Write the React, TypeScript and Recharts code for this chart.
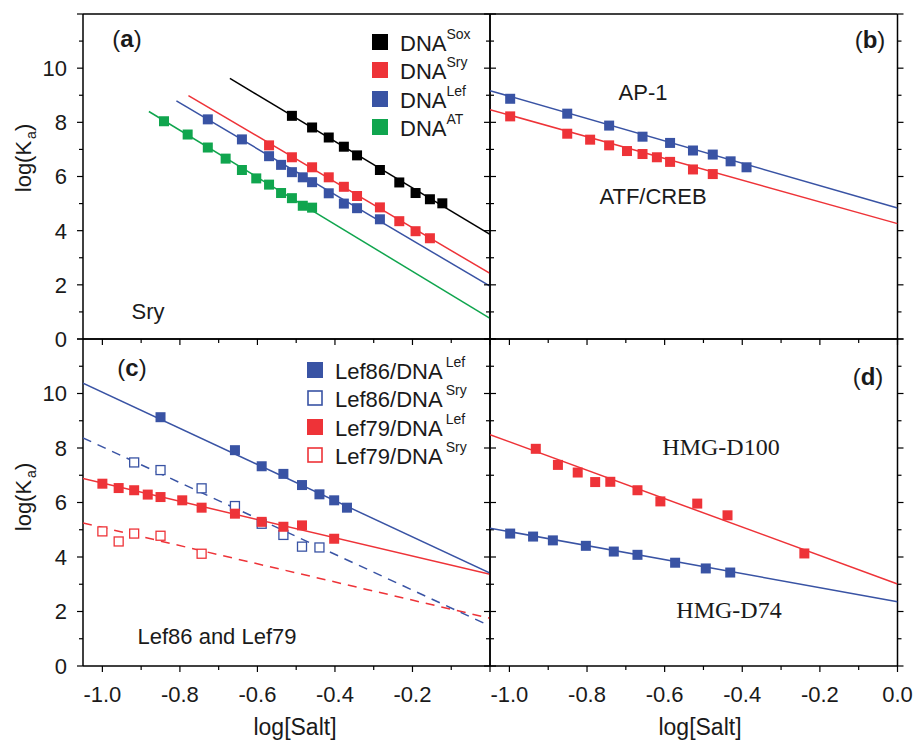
import React from 'react';
import { ScatterChart, Scatter, XAxis, YAxis } from 'recharts';

const FONT = '"Liberation Sans", Arial, Helvetica, sans-serif';
const SERIF = '"Liberation Serif", "Times New Roman", serif';
const RED = '#ee3338';
const BLUE = '#3953a4';
const GREEN = '#10a54e';
const BLACK = '#000000';

const X_TICKS = [-1.0, -0.9, -0.8, -0.7, -0.6, -0.5, -0.4, -0.3, -0.2, -0.1, 0.0];
const Y_TICKS = [0, 1, 2, 3, 4, 5, 6, 7, 8, 9, 10, 11, 12];

// (a) Sry
const soxX = [-0.511, -0.459, -0.416, -0.377, -0.343, -0.284, -0.234, -0.192, -0.155, -0.123];
const soxY = [8.24, 7.81, 7.44, 7.1, 6.78, 6.24, 5.78, 5.39, 5.16, 5.01];
const sryX = [-0.57, -0.511, -0.459, -0.416, -0.377, -0.343, -0.284, -0.234, -0.192, -0.155];
const sryY = [7.15, 6.71, 6.34, 5.97, 5.62, 5.28, 4.86, 4.35, 3.98, 3.72];
const lefX = [-0.728, -0.64, -0.57, -0.539, -0.511, -0.483, -0.459, -0.416, -0.377, -0.343, -0.284];
const lefY = [8.11, 7.37, 6.75, 6.43, 6.16, 5.97, 5.79, 5.38, 5.0, 4.83, 4.42];
const atX = [-0.841, -0.78, -0.728, -0.682, -0.64, -0.603, -0.57, -0.539, -0.511, -0.483, -0.459];
const atY = [8.04, 7.55, 7.07, 6.66, 6.24, 5.93, 5.7, 5.39, 5.2, 4.92, 4.85];
const soxFit = [[-0.671, 9.62], [0, 3.86]];
const sryFit = [[-0.778, 8.99], [0, 2.42]];
const lefFit = [[-0.809, 8.79], [0, 1.95]];
const atFit = [[-0.88, 8.4], [0, 0.76]];

// (b) AP-1, ATF/CREB
const ap1X = [-0.998, -0.851, -0.743, -0.657, -0.586, -0.527, -0.476, -0.43, -0.389];
const ap1Y = [8.87, 8.32, 7.88, 7.47, 7.24, 6.96, 6.81, 6.56, 6.34];
const atfX = [-0.998, -0.851, -0.792, -0.743, -0.697, -0.657, -0.62, -0.586, -0.527, -0.476];
const atfY = [8.22, 7.58, 7.36, 7.15, 6.94, 6.83, 6.71, 6.54, 6.26, 6.09];
const ap1Fit = [[-1.05, 9.17], [0, 4.84]];
const atfFit = [[-1.05, 8.47], [0, 4.26]];

// (c) Lef86 and Lef79
const l86LefX = [-0.85, -0.658, -0.589, -0.533, -0.485, -0.44, -0.402, -0.369];
const l86LefY = [9.13, 7.92, 7.33, 7.05, 6.64, 6.3, 6.08, 5.81];
const l86SryX = [-0.918, -0.85, -0.744, -0.658, -0.589, -0.533, -0.485, -0.44];
const l86SryY = [7.47, 7.19, 6.52, 5.87, 5.22, 4.81, 4.38, 4.35];
const l79LefX = [-1.0, -0.958, -0.918, -0.883, -0.85, -0.794, -0.744, -0.658, -0.589, -0.533, -0.485, -0.402];
const l79LefY = [6.69, 6.53, 6.45, 6.29, 6.2, 6.08, 5.81, 5.59, 5.29, 5.11, 5.16, 4.67];
const l79SryX = [-1.0, -0.958, -0.918, -0.85, -0.744];
const l79SryY = [4.94, 4.57, 4.86, 4.78, 4.12];
const l86LefFit = [[-1.05, 10.38], [0, 3.41]];
const l86SryFit = [[-1.05, 8.37], [0, 1.47]];
const l79LefFit = [[-1.05, 6.88], [0, 3.37]];
const l79SryFit = [[-1.05, 5.25], [0, 1.75]];

// (d) HMG-D100, HMG-D74
const d100X = [-0.932, -0.875, -0.824, -0.779, -0.74, -0.67, -0.611, -0.516, -0.438, -0.24];
const d100Y = [7.97, 7.38, 7.1, 6.75, 6.76, 6.45, 6.04, 5.96, 5.53, 4.13];
const d74X = [-0.998, -0.939, -0.888, -0.803, -0.731, -0.67, -0.573, -0.494, -0.431];
const d74Y = [4.86, 4.75, 4.61, 4.41, 4.2, 4.08, 3.79, 3.58, 3.43];
const d100Fit = [[-1.05, 8.49], [0, 3.01]];
const d74Fit = [[-1.05, 5.06], [0, 2.36]];

type Pt = { x: number; y: number };
const pts = (xs: number[], ys: number[]): Pt[] => xs.map((x, i) => ({ x, y: ys[i] }));
const fit = (f: number[][]): Pt[] => f.map(([x, y]) => ({ x, y }));

type Series = { data: Pt[]; color: string; open?: boolean };
type Fit = { data: Pt[]; color: string; dashed?: boolean };

const W = 918;
const H = 741;
const PL = 83;
const PM = 490;
const PR = 897.5;
const PT = 14;
const PMY = 339;
const PB = 666;
const AX = 1; // axis band size

const xTick = (dir: number, labels: boolean, labelZero: boolean, short = false) => (p: any) => {
  const v = p.payload.value;
  const k = Math.round(v * 10);
  const major = k % 2 === 0;
  const len = short ? (major ? 3 : 2) : major ? 6 : 4;
  const show = labels && major && (labelZero || k !== 0);
  return (
    <g>
      <line x1={p.x} x2={p.x} y1={p.y} y2={p.y + dir * len} stroke="#000" strokeWidth={1.2} />
      {show && (
        <text x={p.x} y={p.y + 36} textAnchor="middle" fontSize={22} fontFamily={FONT} fill="#1a1a1a">
          {v.toFixed(1)}
        </text>
      )}
    </g>
  );
};

const yTick = (dir: number, labels: boolean) => (p: any) => {
  const v = p.payload.value;
  const major = v % 2 === 0;
  const len = major ? 6 : 4;
  const show = labels && major && v <= 10;
  return (
    <g>
      <line x1={p.x} x2={p.x + dir * len} y1={p.y} y2={p.y} stroke="#000" strokeWidth={1.2} />
      {show && (
        <text x={p.x - 16} y={p.y} dy="0.36em" textAnchor="end" fontSize={22} fontFamily={FONT} fill="#1a1a1a">
          {v}
        </text>
      )}
    </g>
  );
};

const square = (color: string, open?: boolean) => (p: any) =>
  open ? (
    <rect x={p.cx - 4.5} y={p.cy - 4.5} width={9} height={9} fill="#fff" stroke={color} strokeWidth={1.3} />
  ) : (
    <rect x={p.cx - 5} y={p.cy - 5} width={10} height={10} fill={color} />
  );

type PanelProps = { side: 'left' | 'right'; row: 'top' | 'bottom'; series: Series[]; fits: Fit[] };

function Panel({ side, row, series, fits }: PanelProps) {
  const left = (side === 'left' ? PL : PM) - AX;
  const right = (side === 'left' ? W - PM : W - PR) - AX;
  const top = (row === 'top' ? PT : PMY) - AX;
  const bottom = (row === 'top' ? H - PMY : H - PB) - AX;
  const axisLine = { stroke: '#000', strokeWidth: 1.5 };
  return (
    <div style={{ position: 'absolute', left: 0, top: 0 }}>
      <ScatterChart width={W} height={H} margin={{ left, right, top, bottom }}>
        <XAxis
          type="number"
          dataKey="x"
          domain={[-1.05, 0]}
          ticks={X_TICKS}
          interval={0}
          height={AX}
          tickSize={0}
          tickMargin={0}
          tickLine={false}
          axisLine={axisLine}
          tick={xTick(1, row === 'bottom', side === 'right')}
          allowDataOverflow
        />
        <XAxis
          xAxisId="t"
          orientation="top"
          type="number"
          domain={[-1.05, 0]}
          ticks={X_TICKS}
          interval={0}
          height={AX}
          tickSize={0}
          tickMargin={0}
          tickLine={false}
          axisLine={axisLine}
          tick={row === 'top' ? xTick(1, false, false, true) : xTick(-1, false, false)}
          allowDataOverflow
        />
        <YAxis
          type="number"
          dataKey="y"
          domain={[0, 12]}
          ticks={Y_TICKS}
          interval={0}
          width={AX}
          tickSize={0}
          tickMargin={0}
          tickLine={false}
          axisLine={axisLine}
          tick={yTick(-1, side === 'left')}
          allowDataOverflow
        />
        <YAxis
          yAxisId="r"
          orientation="right"
          type="number"
          domain={[0, 12]}
          ticks={Y_TICKS}
          interval={0}
          width={AX}
          tickSize={0}
          tickMargin={0}
          tickLine={false}
          axisLine={axisLine}
          tick={yTick(1, false)}
          allowDataOverflow
        />
        {fits.map((f, i) => (
          <Scatter
            key={'f' + i}
            data={f.data}
            fill={f.color}
            line={{ stroke: f.color, strokeWidth: 1.5, strokeDasharray: f.dashed ? '9 7' : undefined }}
            shape={() => <g />}
            isAnimationActive={false}
          />
        ))}
        {series.map((s, i) => (
          <Scatter key={'s' + i} data={s.data} fill={s.color} shape={square(s.color, s.open)} isAnimationActive={false} />
        ))}
      </ScatterChart>
    </div>
  );
}

const abs = (x: number, y: number, extra: React.CSSProperties = {}): React.CSSProperties => ({
  position: 'absolute',
  left: x,
  top: y,
  transform: 'translate(-50%, -50%)',
  whiteSpace: 'nowrap',
  fontFamily: FONT,
  color: '#1a1a1a',
  ...extra,
});

const legendA = [
  { name: 'DNA', sup: 'Sox', color: BLACK, open: false },
  { name: 'DNA', sup: 'Sry', color: RED, open: false },
  { name: 'DNA', sup: 'Lef', color: BLUE, open: false },
  { name: 'DNA', sup: 'AT', color: GREEN, open: false },
];
const legendC = [
  { name: 'Lef86/DNA', sup: 'Lef', color: BLUE, open: false },
  { name: 'Lef86/DNA', sup: 'Sry', color: BLUE, open: true },
  { name: 'Lef79/DNA', sup: 'Lef', color: RED, open: false },
  { name: 'Lef79/DNA', sup: 'Sry', color: RED, open: true },
];

function Legend({ items, x, y0, step, gap }: { items: typeof legendA; x: number; y0: number; step: number; gap: number }) {
  return (
    <>
      {items.map((it, i) => (
        <div
          key={i}
          style={{ position: 'absolute', left: x - 8, top: y0 + i * step - 13, height: 26, lineHeight: '26px', whiteSpace: 'nowrap', fontFamily: FONT, color: '#1a1a1a' }}
        >
          <svg width={16} height={16} style={{ position: 'absolute', left: 0, top: 5 }}>
            {it.open ? (
              <rect x={1} y={1} width={14} height={14} fill="#fff" stroke={it.color} strokeWidth={1.6} />
            ) : (
              <rect x={0} y={0} width={16} height={16} fill={it.color} />
            )}
          </svg>
          <span style={{ position: 'absolute', left: 28, top: 2, fontSize: 22 }}>
            {it.name}
            <span style={{ fontSize: 14, position: 'relative', top: -12, marginLeft: gap }}>{it.sup}</span>
          </span>
        </div>
      ))}
    </>
  );
}

const Tag = ({ x, y, t }: { x: number; y: number; t: string }) => (
  <div style={abs(x, y, { fontSize: 24 })}>
    (<b>{t}</b>)
  </div>
);

export default function App() {
  return (
    <div style={{ position: 'absolute', left: 0, top: 0, width: W, height: H, background: '#fff', overflow: 'hidden' }}>
      <Panel
        side="left"
        row="top"
        fits={[
          { data: fit(atFit), color: GREEN },
          { data: fit(lefFit), color: BLUE },
          { data: fit(sryFit), color: RED },
          { data: fit(soxFit), color: BLACK },
        ]}
        series={[
          { data: pts(atX, atY), color: GREEN },
          { data: pts(lefX, lefY), color: BLUE },
          { data: pts(sryX, sryY), color: RED },
          { data: pts(soxX, soxY), color: BLACK },
        ]}
      />
      <Panel
        side="right"
        row="top"
        fits={[
          { data: fit(atfFit), color: RED },
          { data: fit(ap1Fit), color: BLUE },
        ]}
        series={[
          { data: pts(atfX, atfY), color: RED },
          { data: pts(ap1X, ap1Y), color: BLUE },
        ]}
      />
      <Panel
        side="left"
        row="bottom"
        fits={[
          { data: fit(l79SryFit), color: RED, dashed: true },
          { data: fit(l86SryFit), color: BLUE, dashed: true },
          { data: fit(l79LefFit), color: RED },
          { data: fit(l86LefFit), color: BLUE },
        ]}
        series={[
          { data: pts(l79SryX, l79SryY), color: RED, open: true },
          { data: pts(l86SryX, l86SryY), color: BLUE, open: true },
          { data: pts(l79LefX, l79LefY), color: RED },
          { data: pts(l86LefX, l86LefY), color: BLUE },
        ]}
      />
      <Panel
        side="right"
        row="bottom"
        fits={[
          { data: fit(d74Fit), color: BLUE },
          { data: fit(d100Fit), color: RED },
        ]}
        series={[
          { data: pts(d74X, d74Y), color: BLUE },
          { data: pts(d100X, d100Y), color: RED },
        ]}
      />

      <Tag x={127} y={39} t="a" />
      <Tag x={870} y={40} t="b" />
      <Tag x={132} y={368} t="c" />
      <Tag x={868} y={377} t="d" />

      <Legend items={legendA} x={380} y0={42} step={28.3} gap={0} />
      <Legend items={legendC} x={315} y0={370} step={28.3} gap={3} />

      <div style={abs(148, 312, { fontSize: 22 })}>Sry</div>
      <div style={abs(217, 637, { fontSize: 22 })}>Lef86 and Lef79</div>
      <div style={abs(643, 93, { fontSize: 22 })}>AP-1</div>
      <div style={abs(653, 197, { fontSize: 22 })}>ATF/CREB</div>
      <div style={abs(721, 447, { fontSize: 24, fontFamily: SERIF })}>HMG-D100</div>
      <div style={abs(729, 610, { fontSize: 24, fontFamily: SERIF })}>HMG-D74</div>

      <div style={abs(25, 158, { fontSize: 22, transform: 'translate(-50%, -50%) rotate(-90deg)' })}>
        log(K<sub style={{ fontSize: 14, marginLeft: 2 }}>a</sub>)
      </div>
      <div style={abs(25, 497, { fontSize: 22, transform: 'translate(-50%, -50%) rotate(-90deg)' })}>
        log(K<sub style={{ fontSize: 14, marginLeft: 2 }}>a</sub>)
      </div>
      <div style={abs(295, 727, { fontSize: 23 })}>log[Salt]</div>
      <div style={abs(700, 727, { fontSize: 23 })}>log[Salt]</div>
    </div>
  );
}
